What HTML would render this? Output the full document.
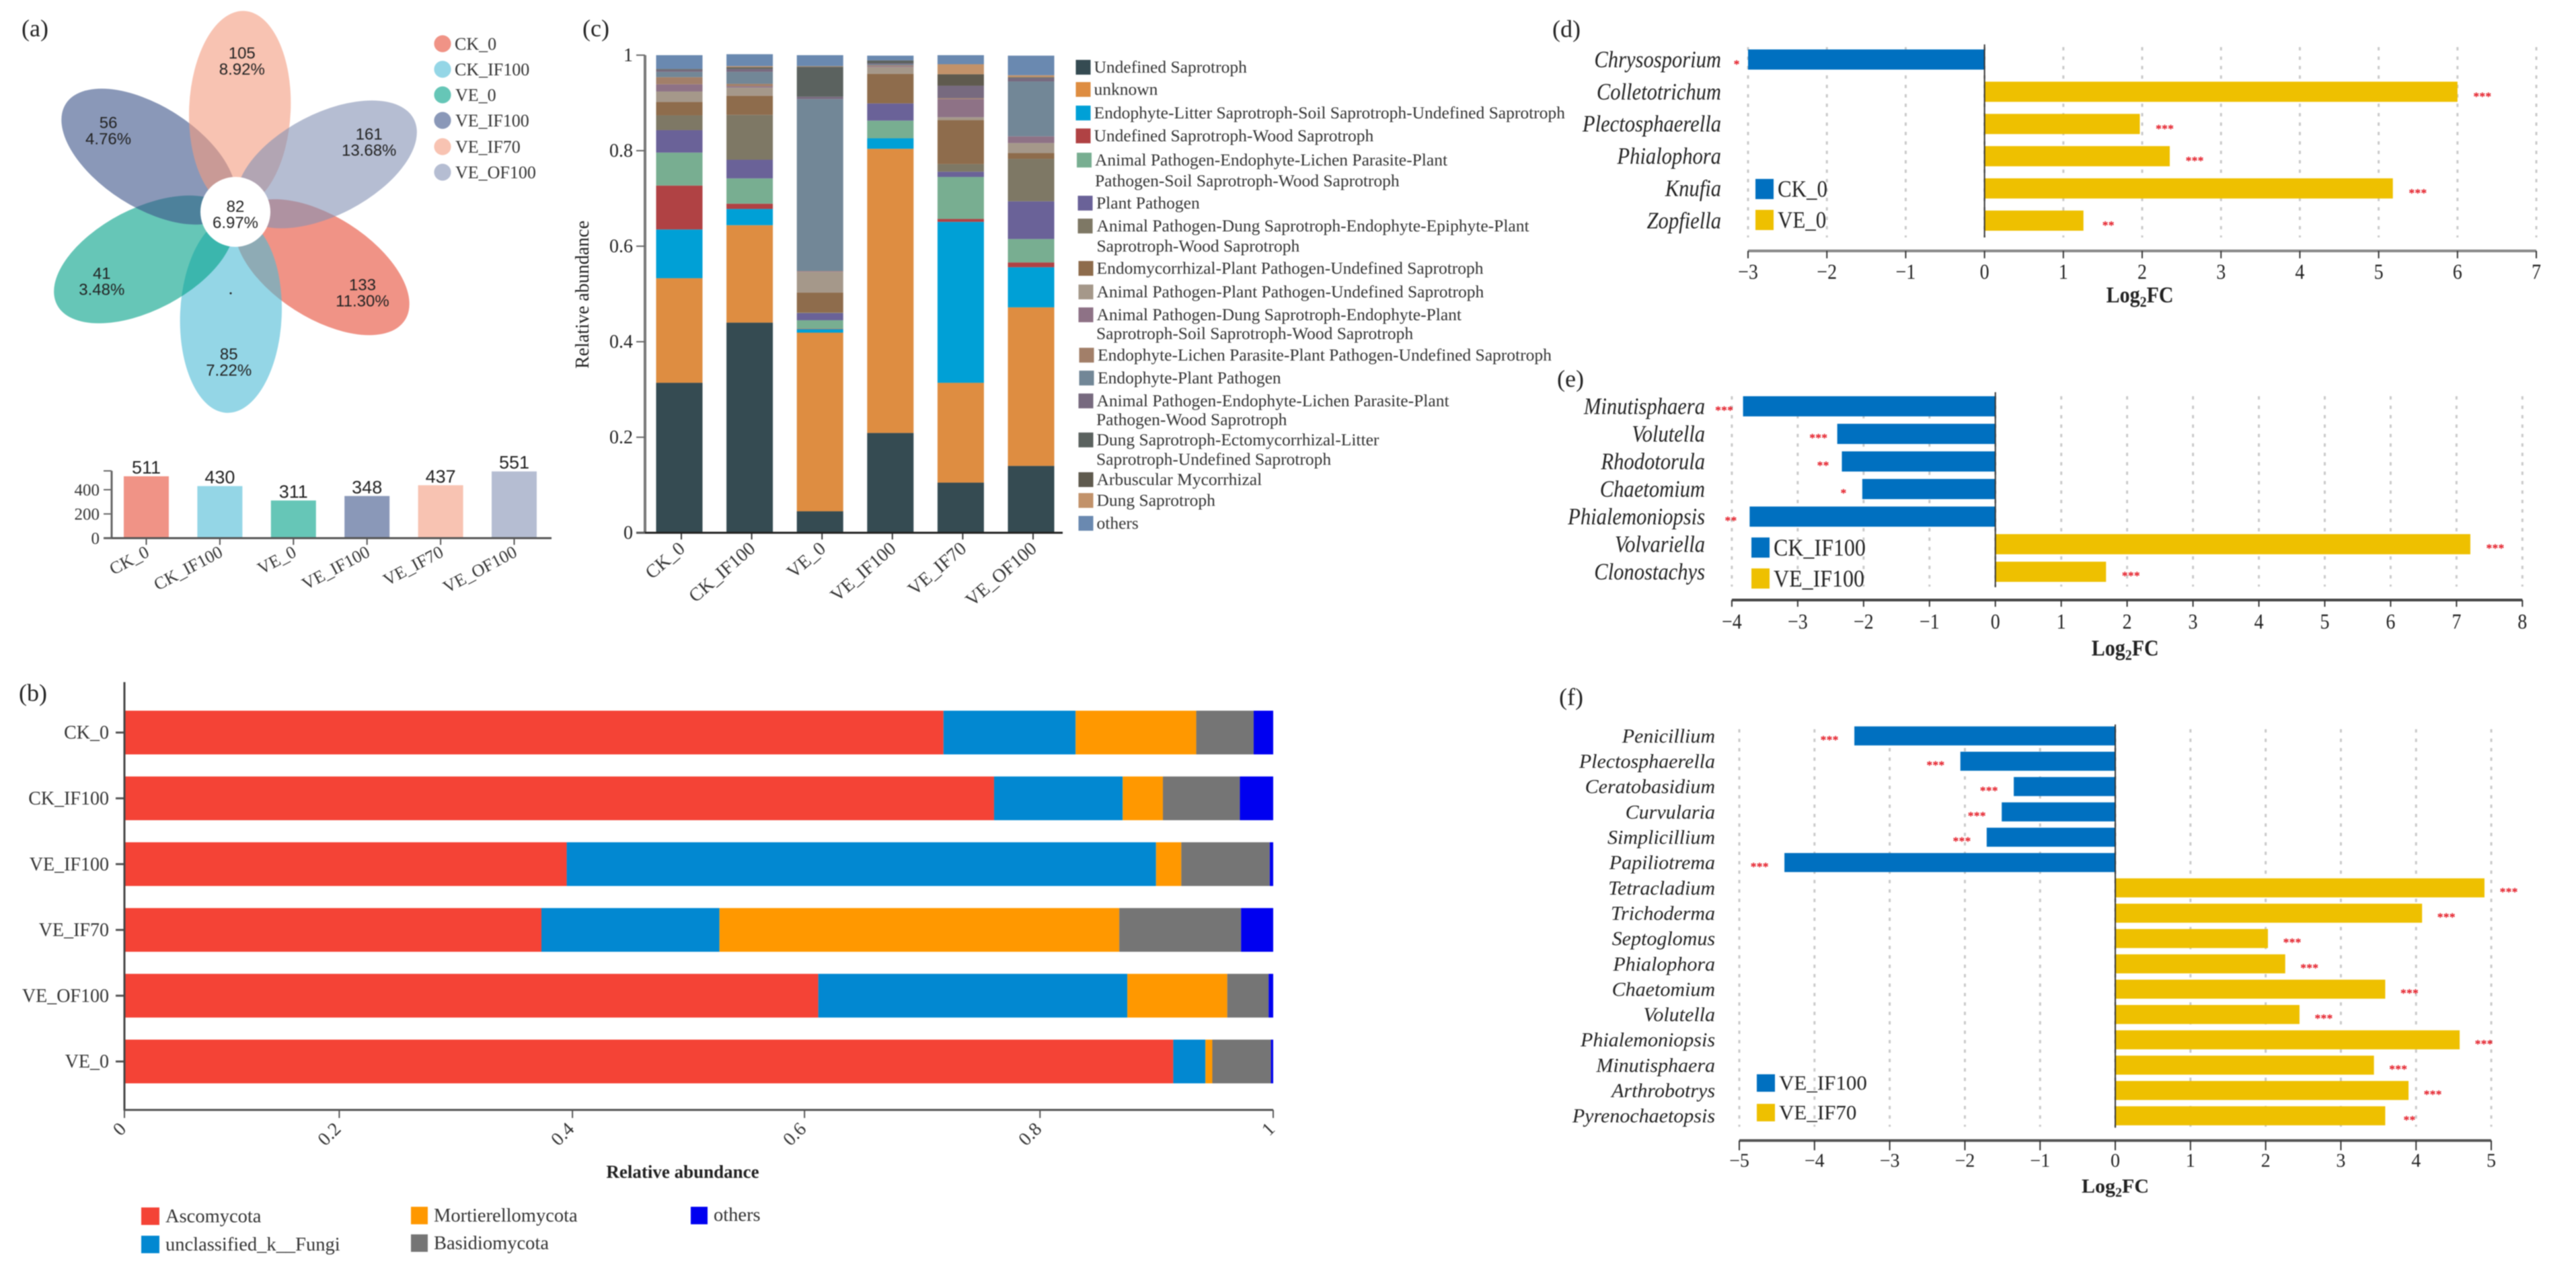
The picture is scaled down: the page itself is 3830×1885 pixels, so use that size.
<!DOCTYPE html>
<html lang="en">
<head>
<meta charset="utf-8">
<title>Fungal community composition and differential abundance</title>
<style>
html,body{margin:0;padding:0;background:#fff;width:3830px;height:1885px;overflow:hidden}
svg{display:block;font-family:"Liberation Serif",serif;fill:#222;filter:blur(.7px)}
.sans{font-family:"Liberation Sans",sans-serif}
.lg{font-size:25.5px;fill:#333}
.pl{font-size:36px;fill:#222}
</style>
</head>
<body>
<svg id="figure" xmlns="http://www.w3.org/2000/svg" width="3830" height="1885" viewBox="0 0 3830 1885">
<rect x="0" y="0" width="3830" height="1885" fill="#fff"/>
<text class="pl" x="32" y="54">(a)</text>
<text class="pl" x="28" y="1042">(b)</text>
<text class="pl" x="866" y="54">(c)</text>
<text class="pl" x="2308" y="55">(d)</text>
<text class="pl" x="2315" y="575">(e)</text>
<text class="pl" x="2318" y="1048">(f)</text>

<g id="panel-a"></g>
<g id="panel-a-bars"></g>
<g id="panel-b"></g>
<g id="panel-c"></g>
<g id="panel-d"></g>
<g id="panel-e"></g>
<g id="panel-f"></g>

<g style="font-size:26px;fill:#333">
<circle cx="658" cy="65" r="12.6" fill="#E64B35" fill-opacity=".6"/><text x="676" y="74">CK_0</text>
<circle cx="658" cy="103" r="12.6" fill="#4DBBD5" fill-opacity=".6"/><text x="676" y="112">CK_IF100</text>
<circle cx="658" cy="141" r="12.6" fill="#00A087" fill-opacity=".6"/><text x="677" y="150">VE_0</text>
<circle cx="658" cy="179" r="12.6" fill="#3C5488" fill-opacity=".6"/><text x="677" y="188">VE_IF100</text>
<circle cx="658" cy="218" r="12.6" fill="#F39B7F" fill-opacity=".6"/><text x="677" y="227">VE_IF70</text>
<circle cx="658" cy="256" r="12.6" fill="#8491B4" fill-opacity=".6"/><text x="677" y="265">VE_OF100</text>
</g>

<g style="font-size:28.5px;fill:#333">
<rect x="210" y="1795" width="27" height="26" fill="#F44336"/><text x="246" y="1817">Ascomycota</text>
<rect x="210" y="1837" width="27" height="26" fill="#0288D1"/><text x="246" y="1859">unclassified_k__Fungi</text>
<rect x="611" y="1794" width="25" height="26" fill="#FF9800"/><text x="645" y="1816">Mortierellomycota</text>
<rect x="611" y="1835" width="25" height="26" fill="#757575"/><text x="645" y="1857">Basidiomycota</text>
<rect x="1027" y="1794" width="25" height="26" fill="#0000F0"/><text x="1061" y="1815">others</text>
</g>

<g>
<rect x="1599.5" y="89" width="22" height="22" fill="#354B52"/><text class="lg" x="1626.5" y="108">Undefined Saprotroph</text>
<rect x="1599.5" y="122" width="22" height="22" fill="#DE8D41"/><text class="lg" x="1626.5" y="141">unknown</text>
<rect x="1599.5" y="157" width="22" height="22" fill="#00A0D6"/><text class="lg" x="1626.5" y="176">Endophyte-Litter Saprotroph-Soil Saprotroph-Undefined Saprotroph</text>
<rect x="1599.5" y="191" width="22" height="22" fill="#B04244"/><text class="lg" x="1626.5" y="210">Undefined Saprotroph-Wood Saprotroph</text>
<rect x="1601" y="227" width="22" height="22" fill="#78AE91"/><text class="lg" x="1628" y="246">Animal Pathogen-Endophyte-Lichen Parasite-Plant</text><text class="lg" x="1628" y="277">Pathogen-Soil Saprotroph-Wood Saprotroph</text>
<rect x="1602.5" y="291" width="22" height="22" fill="#6A6298"/><text class="lg" x="1630" y="310">Plant Pathogen</text>
<rect x="1602.5" y="325" width="22" height="22" fill="#7E7865"/><text class="lg" x="1630.5" y="344">Animal Pathogen-Dung Saprotroph-Endophyte-Epiphyte-Plant</text><text class="lg" x="1630.5" y="374">Saprotroph-Wood Saprotroph</text>
<rect x="1603.5" y="388" width="22" height="22" fill="#8E6C4C"/><text class="lg" x="1630.5" y="407">Endomycorrhizal-Plant Pathogen-Undefined Saprotroph</text>
<rect x="1603.5" y="423" width="22" height="22" fill="#A5988A"/><text class="lg" x="1630.5" y="442">Animal Pathogen-Plant Pathogen-Undefined Saprotroph</text>
<rect x="1603.5" y="457" width="22" height="22" fill="#8E7286"/><text class="lg" x="1630.5" y="476">Animal Pathogen-Dung Saprotroph-Endophyte-Plant</text><text class="lg" x="1630" y="504">Saprotroph-Soil Saprotroph-Wood Saprotroph</text>
<rect x="1604.5" y="517" width="22" height="22" fill="#A27F69"/><text class="lg" x="1632" y="536">Endophyte-Lichen Parasite-Plant Pathogen-Undefined Saprotroph</text>
<rect x="1604.5" y="551" width="22" height="22" fill="#728797"/><text class="lg" x="1632" y="570">Endophyte-Plant Pathogen</text>
<rect x="1603.5" y="585" width="22" height="22" fill="#776A7F"/><text class="lg" x="1630.5" y="604">Animal Pathogen-Endophyte-Lichen Parasite-Plant</text><text class="lg" x="1630" y="632">Pathogen-Wood Saprotroph</text>
<rect x="1603.5" y="643" width="22" height="22" fill="#5B625F"/><text class="lg" x="1630.5" y="662">Dung Saprotroph-Ectomycorrhizal-Litter</text><text class="lg" x="1630" y="691">Saprotroph-Undefined Saprotroph</text>
<rect x="1603.5" y="702" width="22" height="22" fill="#5F5A4E"/><text class="lg" x="1630.5" y="721">Arbuscular Mycorrhizal</text>
<rect x="1603.5" y="733" width="22" height="22" fill="#C2926A"/><text class="lg" x="1630.5" y="752">Dung Saprotroph</text>
<rect x="1603.5" y="767" width="22" height="22" fill="#6A89B0"/><text class="lg" x="1630.5" y="786">others</text>
</g>
</svg>

<script>
/* ---------- panel (a) data ---------- */
const vennGroups = ['CK_0','CK_IF100','VE_0','VE_IF100','VE_IF70','VE_OF100'];
const vennColors = ['#E64B35','#4DBBD5','#00A087','#3C5488','#F39B7F','#8491B4'];
const vennUnique = ['133','85','41','56','105','161'];
const vennPercent = ['11.30%','7.22%','3.48%','4.76%','8.92%','13.68%'];
const vennCore = '82';
const vennCorePercent = '6.97%';
const totalCounts = [511,430,311,348,437,551];
const totalTicks = [0,200,400];

/* ---------- panel (b) data ---------- */
const phylumSamples = ['CK_0','CK_IF100','VE_IF100','VE_IF70','VE_OF100','VE_0'];
const phylumColors = ['#F44336','#0288D1','#FF9800','#757575','#0000F0'];
const phylumCK0 = [0.713,0.115,0.105,0.050,0.017];
const phylumCKIF100 = [0.757,0.112,0.035,0.067,0.029];
const phylumVEIF100 = [0.385,0.513,0.022,0.077,0.003];
const phylumVEIF70 = [0.363,0.155,0.348,0.106,0.028];
const phylumVEOF100 = [0.604,0.269,0.087,0.036,0.004];
const phylumVE0 = [0.913,0.028,0.006,0.051,0.002];
const phylumTickValues = [0,0.187,0.39,0.592,0.797,1];
const phylumTickLabels = ['0','0.2','0.4','0.6','0.8','1'];

/* ---------- panel (c) data ---------- */
const guildSamples = ['CK_0','CK_IF100','VE_0','VE_IF100','VE_IF70','VE_OF100'];
const guildColors = ['#354B52','#DE8D41','#00A0D6','#B04244','#78AE91','#6A6298','#7E7865','#8E6C4C','#A5988A','#8E7286','#A27F69','#728797','#776A7F','#5B625F','#5F5A4E','#C2926A','#6A89B0'];
const guildCK0 = [0.314,0.219,0.102,0.092,0.069,0.047,0.031,0.028,0.022,0.015,0.015,0.011,0.004,0.001,0.001,0,0.029];
const guildCKIF100 = [0.440,0.204,0.034,0.011,0.053,0.039,0.094,0.040,0.017,0.003,0.005,0.025,0.006,0.002,0.002,0.002,0.025];
const guildVE0 = [0.045,0.374,0.007,0.001,0.018,0.015,0.001,0.042,0.043,0.001,0.001,0.360,0.005,0.062,0.001,0.001,0.023];
const guildVEIF100 = [0.209,0.595,0.022,0,0.037,0.036,0,0.062,0.014,0.002,0.002,0.002,0.002,0.005,0.001,0,0.010];
const guildVEIF70 = [0.105,0.209,0.337,0.006,0.088,0.011,0.016,0.092,0.006,0.038,0.002,0,0.026,0,0.024,0.021,0.019];
const guildVEOF100 = [0.140,0.332,0.084,0.010,0.049,0.079,0.089,0.012,0.021,0.014,0,0.115,0.007,0.001,0.001,0.004,0.041];
const guildTicks = [0,0.2,0.4,0.6,0.8,1];

/* ---------- panel (d) data ---------- */
const dGenera = ['Chrysosporium','Colletotrichum','Plectosphaerella','Phialophora','Knufia','Zopfiella'];
const dValues = [-3,6.0,1.97,2.35,5.18,1.255];
const dStars = ['*','***','***','***','***','**'];
const dTicks = [-3,-2,-1,0,1,2,3,4,5,6,7];

/* ---------- panel (e) data ---------- */
const eGenera = ['Minutisphaera','Volutella','Rhodotorula','Chaetomium','Phialemoniopsis','Volvariella','Clonostachys'];
const eValues = [-3.83,-2.40,-2.33,-2.02,-3.73,7.21,1.68];
const eStars = ['***','***','**','*','**','***','***'];
const eTicks = [-4,-3,-2,-1,0,1,2,3,4,5,6,7,8];

/* ---------- panel (f) data ---------- */
const fGenera = ['Penicillium','Plectosphaerella','Ceratobasidium','Curvularia','Simplicillium','Papiliotrema','Tetracladium','Trichoderma','Septoglomus','Phialophora','Chaetomium','Volutella','Phialemoniopsis','Minutisphaera','Arthrobotrys','Pyrenochaetopsis'];
const fValues = [-3.47,-2.06,-1.35,-1.51,-1.71,-4.40,4.91,4.08,2.03,2.26,3.59,2.45,4.58,3.44,3.90,3.59];
const fStars = ['***','***','***','***','***','***','***','***','***','***','***','***','***','***','***','**'];
const fTicks = [-5,-4,-3,-2,-1,0,1,2,3,4,5];

const NS = 'http://www.w3.org/2000/svg';
function node(parent, tag, attrs) {
  const e = document.createElementNS(NS, tag);
  for (const k in attrs) e.setAttribute(k, attrs[k]);
  parent.appendChild(e);
  return e;
}
function label(parent, x, cy, str, size, attrs) {
  const t = node(parent, 'text', Object.assign({x: x, y: cy + size * 0.33, 'font-size': size}, attrs || {}));
  t.textContent = str;
  return t;
}
function stretch(t, cy, s) {
  if (s && s !== 1) t.setAttribute('transform', 'translate(0 ' + cy + ') scale(1 ' + s + ') translate(0 ' + (-cy) + ')');
}
function minus(v) { return v < 0 ? '\u2212' + Math.abs(v) : String(v); }

/* ---------- panel (a) venn ---------- */
(function () {
  const g = document.getElementById('panel-a');
  const cx = 350, cy = 315;
  const angle = i => 122.5 + 60 * i;
  vennGroups.forEach((name, i) => {
    const p = node(g, 'ellipse', {cx: cx, cy: cy - 153, rx: 75.5, ry: 146, fill: vennColors[i], 'fill-opacity': 0.6, transform: 'rotate(' + angle(i) + ' ' + cx + ' ' + cy + ')'});
    
    
  });
  const hub = node(g, 'circle', {cx: cx, cy: cy, r: 52, fill: '#fff'});
  
  
  vennGroups.forEach((name, i) => {
    const a = angle(i) * Math.PI / 180;
    const lx = cx + 224 * Math.sin(a), ly = cy - 224 * Math.cos(a);
    const n = label(g, lx, ly - 12, vennUnique[i], 24, {class: 'sans', 'text-anchor': 'middle', fill: '#222'});
    
    
    const q = label(g, lx, ly + 12, vennPercent[i], 24, {class: 'sans', 'text-anchor': 'middle', fill: '#222'});
    
    
  });
  const c1 = label(g, cx, 307, vennCore, 24, {class: 'sans', 'text-anchor': 'middle', fill: '#222'});
  
  
  const c2 = label(g, cx, 331, vennCorePercent, 24, {class: 'sans', 'text-anchor': 'middle', fill: '#222'});
  
  
  const dot = node(g, 'circle', {cx: 343, cy: 436, r: 1.5, fill: '#222'});
  
  
})();

/* ---------- panel (a) totals bar chart ---------- */
(function () {
  const g = document.getElementById('panel-a-bars');
  const y = v => 800 - v * 0.18;
  const x = i => 217.5 + i * 109.4;
  totalCounts.forEach((v, i) => {
    const b = node(g, 'rect', {x: x(i) - 33.5, y: y(v), width: 67, height: 800 - y(v), fill: vennColors[i], 'fill-opacity': 0.6});
    
    
    const t = label(g, x(i), y(v) - 13, String(v), 27, {class: 'sans', 'text-anchor': 'middle', fill: '#222'});
    
    
    const tick = node(g, 'line', {x1: x(i), x2: x(i), y1: 800, y2: 810, stroke: '#555', 'stroke-width': 2});
    
    
    const l = node(g, 'text', {x: x(i) + 6, y: 826, 'font-size': 26, 'text-anchor': 'end', fill: '#333', transform: 'rotate(-28 ' + (x(i) + 6) + ' 826)'});
    l.textContent = vennGroups[i];
    
    
  });
  const ya = node(g, 'line', {x1: 166, x2: 166, y1: 700, y2: 801, stroke: '#666', 'stroke-width': 3});
  
  
  const xa = node(g, 'line', {x1: 154, x2: 820, y1: 800, y2: 800, stroke: '#555', 'stroke-width': 3});
  
  
  const top = node(g, 'line', {x1: 154, x2: 166, y1: 700, y2: 700, stroke: '#666', 'stroke-width': 2});
  
  
  totalTicks.forEach(v => {
    const tk = node(g, 'line', {x1: 154, x2: 166, y1: y(v), y2: y(v), stroke: '#666', 'stroke-width': 2});
    
    
    const l = label(g, 148, y(v), String(v), 25, {'text-anchor': 'end', fill: '#333'});
    
    
  });
})();

/* ---------- panel (b) ---------- */
(function () {
  const g = document.getElementById('panel-b');
  const series = [phylumCK0, phylumCKIF100, phylumVEIF100, phylumVEIF70, phylumVEOF100, phylumVE0];
  const x = v => 185 + v * 1708;
  const y = i => 1089 + i * 97.8;
  series.forEach((row, i) => {
    let acc = 0;
    row.forEach((v, j) => {
      const r = node(g, 'rect', {x: x(acc), y: y(i) - 32.5, width: x(acc + v) - x(acc), height: 65, fill: phylumColors[j]});
      
      
      acc += v;
    });
    const tk = node(g, 'line', {x1: 172, x2: 185, y1: y(i), y2: y(i), stroke: '#555', 'stroke-width': 3});
    
    
    const l = label(g, 162, y(i), phylumSamples[i], 28, {'text-anchor': 'end', fill: '#333'});
    
    
  });
  const ya = node(g, 'line', {x1: 185, x2: 185, y1: 1014, y2: 1651, stroke: '#444', 'stroke-width': 3});
  
  
  const xa = node(g, 'line', {x1: 185, x2: 1893, y1: 1650, y2: 1650, stroke: '#555', 'stroke-width': 3});
  
  
  phylumTickValues.forEach((v, i) => {
    const tk = node(g, 'line', {x1: x(v), x2: x(v), y1: 1650, y2: 1662, stroke: '#555', 'stroke-width': 2});
    
    
    const ax = x(v) + 4, ay = 1680;
    const l = node(g, 'text', {x: ax, y: ay, 'font-size': 28, 'text-anchor': 'end', fill: '#333', transform: 'rotate(-45 ' + ax + ' ' + ay + ')'});
    l.textContent = phylumTickLabels[i];
    
    
  });
  const title = label(g, 1015, 1742, 'Relative abundance', 27, {'text-anchor': 'middle', 'font-weight': 'bold', fill: '#222'});
  
  
})();

/* ---------- panel (c) ---------- */
(function () {
  const g = document.getElementById('panel-c');
  const series = [guildCK0, guildCKIF100, guildVE0, guildVEIF100, guildVEIF70, guildVEOF100];
  const y = v => 792 - v * 710;
  const x = i => 1010 + i * 104.6;
  series.forEach((row, i) => {
    let acc = 0;
    row.forEach((v, j) => {
      if (v > 0) {
        const r = node(g, 'rect', {x: x(i) - 34.5, y: y(acc + v), width: 69, height: y(acc) - y(acc + v), fill: guildColors[j]});
        
        
      }
      acc += v;
    });
    const tx = x(i) + 3;
    const tk = node(g, 'line', {x1: tx, x2: tx, y1: 792, y2: 802, stroke: '#333', 'stroke-width': 2});
    
    
    const ax = tx + 7, ay = 818;
    const l = node(g, 'text', {x: ax, y: ay, 'font-size': 28, 'text-anchor': 'end', fill: '#333', transform: 'rotate(-41 ' + ax + ' ' + ay + ')'});
    l.textContent = guildSamples[i];
    
    
  });
  const ya = node(g, 'line', {x1: 959, x2: 959, y1: 82, y2: 792, stroke: '#777', 'stroke-width': 4});
  
  
  const xa = node(g, 'line', {x1: 946, x2: 1580, y1: 792, y2: 792, stroke: '#222', 'stroke-width': 3});
  
  
  guildTicks.forEach(v => {
    const tk = node(g, 'line', {x1: 946, x2: 959, y1: y(v), y2: y(v), stroke: '#666', 'stroke-width': 2});
    
    
    const l = label(g, 941, y(v), String(v), 28, {'text-anchor': 'end', fill: '#222'});
    
    
  });
  const ty = node(g, 'text', {x: 875, y: 438, 'font-size': 28, 'text-anchor': 'middle', fill: '#222', transform: 'rotate(-90 875 438)'});
  ty.textContent = 'Relative abundance';
  
  
})();

/* ---------- panels (d), (e), (f) ---------- */
function diverging(cfg) {
  const g = document.getElementById(cfg.id);
  const x = v => cfg.zero + v * cfg.unit;
  const y = i => cfg.first + i * cfg.step;
  cfg.ticks.forEach(v => {
    const grid = node(g, 'line', {x1: x(v), x2: x(v), y1: cfg.gridTop, y2: cfg.gridBottom, stroke: '#c9c9c9', 'stroke-width': 3, 'stroke-dasharray': '5 9'});
    
    
  });
  cfg.names.forEach((name, i) => {
    const v = cfg.values[i];
    const b = node(g, 'rect', {x: Math.min(x(0), x(v)), y: y(i) - cfg.bar / 2, width: Math.abs(x(v) - x(0)), height: cfg.bar, fill: v < 0 ? '#0070C0' : '#EEC000'});
    
    
    const l = label(g, cfg.labelX, y(i), name, cfg.genusSize, {'text-anchor': 'end', 'font-style': 'italic', fill: '#222'});
    stretch(l, y(i), cfg.stretch);
    
    
    const sx = x(v) + (v < 0 ? cfg.starNeg : cfg.starPos);
    const s = node(g, 'text', {x: sx, y: y(i) + cfg.starDy + 9, 'font-size': 18, 'font-weight': 'bold', 'text-anchor': 'middle', fill: '#E3141F'});
    s.textContent = cfg.stars[i];
    
    
  });
  const zl = node(g, 'line', {x1: x(0), x2: x(0), y1: cfg.zeroTop, y2: cfg.zeroBottom, stroke: '#333', 'stroke-width': 2});
  
  
  const xa = node(g, 'line', {x1: x(cfg.ticks[0]), x2: x(cfg.ticks[cfg.ticks.length - 1]), y1: cfg.axisY, y2: cfg.axisY, stroke: cfg.axisColor, 'stroke-width': 4});
  
  
  cfg.ticks.forEach(v => {
    const tk = node(g, 'line', {x1: x(v), x2: x(v), y1: cfg.axisY, y2: cfg.tickBottom, stroke: '#333', 'stroke-width': 2});
    
    
    const l = label(g, x(v), cfg.tickLabelY, minus(v), 28, {'text-anchor': 'middle', fill: '#222'});
    stretch(l, cfg.tickLabelY, cfg.stretch);
    
    
  });
  const title = node(g, 'text', {x: x(0) + cfg.titleDx, y: cfg.titleY + 10, 'font-size': 30, 'font-weight': 'bold', 'text-anchor': 'middle', fill: '#222'});
  stretch(title, cfg.titleY, cfg.stretch);
  
  
  const t1 = node(title, 'tspan', {});
  t1.textContent = 'Log';
  const t2 = node(title, 'tspan', {dy: 6, 'font-size': 20});
  t2.textContent = '2';
  const t3 = node(title, 'tspan', {dy: -6});
  t3.textContent = 'FC';
  cfg.legend.forEach((name, i) => {
    const sw = node(g, 'rect', {x: cfg.legendX, y: cfg.legendY[i] - cfg.legendH / 2, width: 27, height: cfg.legendH, fill: i === 0 ? '#0070C0' : '#EEC000'});
    
    
    const t = label(g, cfg.legendX + 33, cfg.legendY[i], name, cfg.legendSize, {fill: '#222'});
    stretch(t, cfg.legendY[i], cfg.stretch);
    
    
  });
}
diverging({id: 'panel-d', names: dGenera, values: dValues, stars: dStars, ticks: dTicks,
  zero: 2950.6, unit: 117.2, first: 88.5, step: 47.9, bar: 30, labelX: 2559, genusSize: 30.6, stretch: 1.13, legendSize: 31,
  gridTop: 70, gridBottom: 353, zeroTop: 66, zeroBottom: 353, axisY: 373, axisColor: '#888', tickBottom: 384, tickLabelY: 404,
  titleDx: 231, titleY: 438, starPos: 37, starNeg: -17, starDy: 4,
  legend: ['CK_0', 'VE_0'], legendX: 2610, legendY: [281, 327], legendH: 30});
diverging({id: 'panel-e', names: eGenera, values: eValues, stars: eStars, ticks: eTicks,
  zero: 2966.7, unit: 97.95, first: 604, step: 41, bar: 30, labelX: 2535, genusSize: 30.6, stretch: 1.13, legendSize: 32,
  gridTop: 589, gridBottom: 872, zeroTop: 583, zeroBottom: 873, axisY: 892, axisColor: '#444', tickBottom: 902, tickLabelY: 924,
  titleDx: 193, titleY: 963, starPos: 37, starNeg: -28, starDy: 3,
  legend: ['CK_IF100', 'VE_IF100'], legendX: 2604, legendY: [814, 860], legendH: 30});
diverging({id: 'panel-f', names: fGenera, values: fValues, stars: fStars, ticks: fTicks,
  zero: 3145, unit: 111.8, first: 1094, step: 37.65, bar: 28.3, labelX: 2550, genusSize: 30, stretch: 1, legendSize: 31,
  gridTop: 1084, gridBottom: 1675, zeroTop: 1077, zeroBottom: 1676.5, axisY: 1695.5, axisColor: '#555', tickBottom: 1710, tickLabelY: 1725.5,
  titleDx: 0, titleY: 1763, starPos: 36, starNeg: -37, starDy: 3,
  legend: ['VE_IF100', 'VE_IF70'], legendX: 2612, legendY: [1610, 1654], legendH: 26});
</script>
</body>
</html>
